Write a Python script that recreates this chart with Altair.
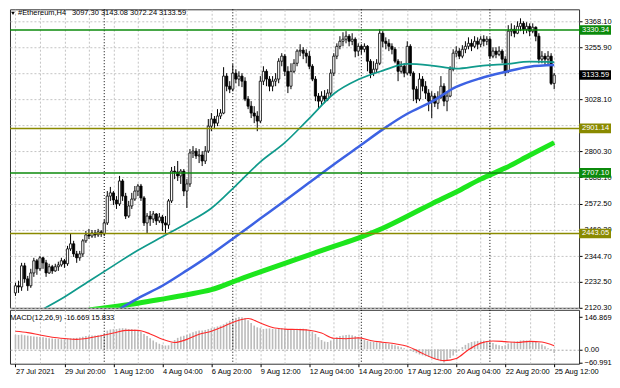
import json
import altair as alt
import pandas as pd

FONT = "Liberation Sans"
FS = 7.5

# ---------------- data ----------------
first_open = 2184.0
closes = [2215, 2210, 2302, 2245, 2215, 2271, 2324, 2289, 2337, 2315,
          2271, 2298, 2280, 2298, 2306, 2324, 2311, 2376, 2398, 2354,
          2337, 2354, 2411, 2437, 2432, 2445, 2437, 2450, 2441, 2489,
          2606, 2620, 2589, 2572, 2672, 2606, 2519, 2563, 2593, 2628,
          2650, 2598, 2489, 2519, 2506, 2528, 2498, 2515, 2489, 2480,
          2585, 2715, 2711, 2694, 2715, 2628, 2659, 2794, 2802, 2781,
          2785, 2759, 2802, 2911, 2942, 2924, 2955, 2968, 3129, 3085,
          3072, 3142, 3116, 3129, 3107, 3029, 2998, 2968, 2955, 2933,
          3107, 3150, 3116, 3085, 3107, 3116, 3194, 3216, 3150, 3085,
          3150, 3185, 3238, 3242, 3229, 3216, 3172, 3116, 3042, 3020,
          3042, 3029, 3055, 3142, 3216, 3259, 3281, 3290, 3303, 3281,
          3290, 3238, 3259, 3246, 3259, 3194, 3142, 3159, 3185, 3316,
          3281, 3272, 3259, 3246, 3194, 3150, 3172, 3142, 3259, 3142,
          3072, 3029, 3116, 3085, 3055, 3020, 3042, 3011, 3037, 3085,
          3020, 3042, 3159, 3229, 3238, 3216, 3246, 3259, 3272, 3259,
          3281, 3268, 3290, 3281, 3290, 3216, 3238, 3224, 3238, 3203,
          3150, 3325, 3333, 3316, 3346, 3359, 3333, 3346, 3325, 3342,
          3303, 3203, 3216, 3203, 3216, 3097.30, 3133.59]
highs = [2228, 2237, 2315, 2315, 2258, 2289, 2337, 2332, 2345, 2341,
         2328, 2311, 2306, 2311, 2320, 2337, 2332, 2389, 2445, 2411,
         2367, 2367, 2419, 2454, 2463, 2458, 2458, 2463, 2458, 2502,
         2628, 2646, 2628, 2606, 2694, 2680, 2620, 2585, 2620, 2650,
         2659, 2659, 2606, 2532, 2541, 2541, 2532, 2532, 2524, 2519,
         2593, 2733, 2737, 2759, 2724, 2724, 2680, 2811, 2824, 2815,
         2811, 2802, 2824, 2942, 2968, 2955, 2985, 2985, 3168, 3142,
         3107, 3181, 3159, 3150, 3142, 3124, 3042, 3020, 2998, 2976,
         3129, 3172, 3159, 3129, 3129, 3142, 3207, 3229, 3225, 3172,
         3185, 3203, 3246, 3268, 3255, 3246, 3238, 3181, 3129, 3055,
         3063, 3068, 3072, 3159, 3229, 3272, 3303, 3320, 3325, 3312,
         3316, 3298, 3272, 3268, 3272, 3264, 3203, 3194, 3203, 3333,
         3325, 3298, 3290, 3272, 3255, 3203, 3194, 3185, 3281, 3268,
         3150, 3085, 3142, 3129, 3107, 3072, 3063, 3055, 3063, 3129,
         3098, 3063, 3172, 3246, 3259, 3251, 3264, 3281, 3298, 3290,
         3303, 3298, 3303, 3307, 3303, 3298, 3255, 3255, 3259, 3246,
         3216, 3351, 3359, 3351, 3368, 3381, 3368, 3364, 3359, 3359,
         3346, 3316, 3238, 3229, 3238, 3229, 3143.08]
lows = [2171, 2184, 2193, 2228, 2193, 2206, 2254, 2263, 2280, 2289,
        2254, 2267, 2267, 2276, 2280, 2298, 2293, 2302, 2367, 2341,
        2315, 2324, 2341, 2402, 2419, 2424, 2424, 2428, 2428, 2432,
        2480, 2585, 2567, 2550, 2563, 2585, 2506, 2511, 2550, 2585,
        2606, 2585, 2476, 2441, 2476, 2489, 2480, 2489, 2454, 2441,
        2463, 2576, 2680, 2672, 2659, 2606, 2554, 2646, 2772, 2768,
        2750, 2737, 2746, 2794, 2889, 2898, 2911, 2942, 2963, 3063,
        3055, 3063, 3098, 3085, 3081, 3020, 2985, 2946, 2924, 2889,
        2924, 3090, 3085, 3063, 3063, 3085, 3098, 3172, 3129, 3055,
        3072, 3142, 3172, 3216, 3203, 3185, 3159, 3107, 3020, 2989,
        3003, 3011, 3020, 3042, 3129, 3203, 3246, 3259, 3272, 3259,
        3264, 3211, 3216, 3224, 3233, 3150, 3120, 3129, 3142, 3177,
        3255, 3246, 3238, 3224, 3185, 3107, 3140, 3124, 3133, 3129,
        3020, 3011, 3020, 3063, 3029, 2976, 2946, 2994, 2985, 3029,
        2998, 2976, 3037, 3150, 3211, 3203, 3207, 3229, 3246, 3238,
        3251, 3246, 3255, 3259, 3264, 3203, 3207, 3207, 3216, 3185,
        3129, 3142, 3303, 3298, 3312, 3325, 3312, 3316, 3303, 3316,
        3281, 3185, 3185, 3177, 3181, 3090, 3072.24]
opens = [first_open] + closes[:-1]

macd_hist = [66, 65, 67, 64, 62, 60, 58, 57, 56, 55,
             52, 50, 49, 48, 47, 46, 46, 48, 50, 51,
             52, 54, 57, 60, 62, 63, 63, 64, 66, 72,
             85, 90, 92, 92, 95, 96, 95, 92, 92, 90,
             88, 80, 70, 60, 50, 40, 32, 25, 20, 17,
             18, 30, 42, 52, 58, 62, 66, 72, 78, 82,
             85, 86, 88, 92, 96, 100, 104, 108, 114, 122,
             130, 138, 144, 146.869, 146, 143, 132, 120, 108, 100,
             96, 92, 94, 95, 93, 92, 95, 96, 94, 90,
             90, 91, 93, 94, 93, 92, 88, 80, 70, 55,
             42, 35, 33, 40, 48, 55, 60, 63, 65, 66,
             64, 60, 55, 48, 42, 38, 35, 33, 32, 30,
             29, 27, 25, 22, 18, 14, 9, 5, 0, -6,
             -12, -18, -24, -28, -32, -35, -40, -44, -48, -55,
             -60.991, -52, -40, -28, -15, -2, 10, 20, 28, 33,
             36, 38, 40, 39, 37, 33, 28, 22, 18, 15,
             18, 26, 32, 35, 37, 40, 41, 40, 39, 37,
             34, 30, 22, 14, 5, -6, -16.669]
signal_step = 4
signal_vals = [82, 76, 65, 55, 49, 45, 51, 62, 74, 86, 86, 70, 46, 31, 45,
               68, 82, 104, 128, 140, 120, 99, 92, 90, 87, 74, 50, 48, 52, 40,
               32, 25, 14, -12, -38, -52, -42, -2, 28, 38, 35, 31, 36, 33, 15.833]

ma_step = 8
ma_teal = [None, 2106, 2166, 2235, 2303, 2370, 2429, 2488, 2553, 2652, 2755, 2839,
           2945, 3052, 3114, 3153, 3182, 3175, 3162, 3174, 3181, 3192, 3190]
ma_blue = [None, None, None, None, 2098, 2160, 2215, 2282, 2353, 2430, 2508, 2586,
           2665, 2744, 2820, 2897, 2965, 3018, 3082, 3120, 3147, 3170, 3177]
ma_green = [None, None, None, 2110, 2124, 2139, 2157, 2176, 2198, 2237, 2276, 2313,
            2350, 2387, 2423, 2466, 2518, 2572, 2624, 2680, 2728, 2784, 2839]

level_values = [3330.34, 2901.14, 2707.10, 2443.05]
level_colors = ["#0b8a0b", "#8a8a00", "#0b8a0b", "#8a8a00"]
last_price = 3133.59

price_ticks = [3368.10, 3255.90, 3142.00, 3028.10, 2914.20, 2800.30, 2688.10,
               2572.50, 2460.30, 2344.70, 2232.50, 2120.30]
hidden_price_labels = [3142.00, 2914.20]
macd_ticks = [146.869, 0.0, -60.991]
x_labels = ["27 Jul 2021", "29 Jul 20:00", "1 Aug 12:00", "4 Aug 04:00",
            "6 Aug 20:00", "9 Aug 12:00", "12 Aug 04:00", "14 Aug 20:00",
            "17 Aug 12:00", "20 Aug 04:00", "22 Aug 20:00", "25 Aug 12:00"]
label_every = 16
grid_every = 8
week_separators = [29, 71, 113, 155]

header_symbol = "#Ethereum,H4"
header_ohlc = "3097.30 3143.08 3072.24 3133.59"
macd_header = "MACD(12,26,9) -16.669 15.833"

# ---------------- frames ----------------
n = len(closes)
bars = pd.DataFrame({"bar": list(range(n)), "open": opens, "high": highs,
                     "low": lows, "close": closes, "macd": macd_hist})
ma_rows = []
for name, vals in (("teal", ma_teal), ("blue", ma_blue), ("green", ma_green)):
    for k, v in enumerate(vals):
        if v is not None:
            ma_rows.append({"bar": k * ma_step, "value": v, "ma": name})
ma_df = pd.DataFrame(ma_rows)
sig_df = pd.DataFrame({"bar": [k * signal_step for k in range(len(signal_vals))],
                       "signal": signal_vals})
lev_df = pd.DataFrame({"value": level_values, "color": level_colors,
                       "label": [f"{v:.2f}" for v in level_values]})
last_df = pd.DataFrame({"value": [last_price], "label": [f"{last_price:.2f}"]})
sep_df = pd.DataFrame({"bar": week_separators})
one = pd.DataFrame({"k": [0]})

W = 570
H_MAIN = 299
H_MACD = 54
BOX_W = 32
grid_bars = list(range(0, n, grid_every))
xscale = alt.Scale(domain=[-0.16, 182.5], nice=False, zero=False)
yscale = alt.Scale(domain=[2119.0, 3420.3], nice=False, zero=False)
mscale = alt.Scale(domain=[-66.0, 180.0], nice=False, zero=False)

hide_test = " || ".join(f"abs(datum.value - {v}) < 0.01" for v in hidden_price_labels)
grid_x_axis = alt.Axis(values=grid_bars, labels=False, ticks=False, domain=False,
                       grid=True, gridDash=[2, 2], gridColor="#c4c4c4", title=None)
price_axis = alt.Axis(orient="right", values=price_ticks, title=None,
                      labelExpr=f"({hide_test}) ? '' : format(datum.value, '.2f')",
                      domain=False, tickSize=3, tickColor="#000", labelPadding=2,
                      labelFont=FONT, labelFontSize=FS, labelColor="#000",
                      labelOverlap=False, labelFlush=False,
                      grid=True, gridDash=[2, 2], gridColor="#c4c4c4")

X = alt.X("bar:Q", scale=xscale, axis=grid_x_axis, title=None)

def Yp(field):
    return alt.Y(field, scale=yscale, axis=price_axis, title=None)

# ---------------- main panel ----------------
wicks = alt.Chart(bars).mark_rule(color="#000", strokeWidth=1).encode(
    x=X, y=Yp("low:Q"), y2="high:Q")
bodies = alt.Chart(bars).mark_bar(size=2.2, stroke="#000", strokeWidth=0.8).encode(
    x=X, y=Yp("open:Q"), y2="close:Q",
    fill=alt.condition("datum.close >= datum.open", alt.value("#ffffff"), alt.value("#000000")))
seps = alt.Chart(sep_df).mark_rule(color="#000", strokeWidth=1, strokeDash=[1, 2]).encode(x=X)

def ma_line(name, color, width):
    return alt.Chart(ma_df).transform_filter(alt.datum.ma == name).mark_line(
        color=color, strokeWidth=width, clip=True, interpolate="monotone").encode(
        x=X, y=Yp("value:Q"))

ma_g = ma_line("green", "#1de61d", 5)
ma_b = ma_line("blue", "#3d62e3", 2.5)
ma_t = ma_line("teal", "#109a8c", 1.7)

levels = alt.Chart(lev_df).mark_rule(strokeWidth=1.5).encode(
    y=Yp("value:Q"), color=alt.Color("color:N", scale=None))
box_shape = "M-1,-0.3L1,-0.3L1,0.3L-1,0.3Z"
lev_box = alt.Chart(lev_df).mark_point(shape=box_shape, size=BOX_W * BOX_W, filled=True,
                                       opacity=1).encode(
    x=alt.value(W + BOX_W / 2), y=Yp("value:Q"), color=alt.Color("color:N", scale=None))
lev_txt = alt.Chart(lev_df).mark_text(align="left", baseline="middle", font=FONT,
                                      fontSize=FS, color="#ffffff").encode(
    x=alt.value(W + 3), y=Yp("value:Q"), text="label:N")
last_box = alt.Chart(last_df).mark_point(shape=box_shape, size=BOX_W * BOX_W, filled=True,
                                         opacity=1, color="#000").encode(
    x=alt.value(W + BOX_W / 2), y=Yp("value:Q"))
last_txt = alt.Chart(last_df).mark_text(align="left", baseline="middle", font=FONT,
                                        fontSize=FS, color="#ffffff").encode(
    x=alt.value(W + 3), y=Yp("value:Q"), text="label:N")

tri = alt.Chart(one).mark_point(shape="triangle-down", size=14, filled=True,
                                opacity=1, color="#000").encode(
    x=alt.value(3), y=alt.value(4))
hdr1 = alt.Chart(one).mark_text(text=header_symbol, font=FONT, fontSize=FS,
                                color="#000", align="left", baseline="top").encode(
    x=alt.value(8), y=alt.value(0))
hdr2 = alt.Chart(one).mark_text(text=header_ohlc, font=FONT, fontSize=FS,
                                color="#000", align="left", baseline="top").encode(
    x=alt.value(62), y=alt.value(0))

main = alt.layer(wicks, seps, bodies, ma_g, ma_b, ma_t, levels,
                 lev_box, lev_txt, last_box, last_txt, tri, hdr1, hdr2).properties(
    width=W, height=H_MAIN)

# ---------------- MACD panel ----------------
lab_expr = (f"datum.value % {label_every} === 0 ? "
            f"{json.dumps(x_labels)}[datum.value / {label_every}] : ''")
macd_x_axis = alt.Axis(values=grid_bars, labelExpr=lab_expr, labelAlign="left",
                       labelFont=FONT, labelFontSize=FS, labelColor="#000",
                       labelPadding=1, labelOverlap=False, labelFlush=False,
                       tickSize=3, tickColor="#000",
                       tickOpacity={"condition": {"test": f"datum.value % {label_every} === 0",
                                                  "value": 1}, "value": 0},
                       domain=False, grid=True, gridDash=[2, 2], gridColor="#c4c4c4",
                       title=None)
macd_y_axis = alt.Axis(orient="right", values=macd_ticks, title=None, domain=False,
                       labelExpr="datum.value === 0 ? '0.00' : format(datum.value, '.3f')",
                       labelFont=FONT, labelFontSize=FS, labelColor="#000",
                       labelPadding=2, labelOverlap=False, labelFlush=False,
                       tickSize=3, tickColor="#000", grid=True, gridDash=[2, 2],
                       gridColor="#a8a8a8",
                       gridOpacity={"condition": {"test": "datum.value === 0", "value": 1},
                                    "value": 0})
XM = alt.X("bar:Q", scale=xscale, axis=macd_x_axis, title=None)

def Ym(field):
    return alt.Y(field, scale=mscale, axis=macd_y_axis, title=None)

hist = alt.Chart(bars).mark_bar(size=1.6, color="#bbbbbb").encode(
    x=XM, y=Ym("macd:Q"), y2=alt.datum(0))
sig = alt.Chart(sig_df).mark_line(color="#ff2a2a", strokeWidth=1.1,
                                  interpolate="monotone").encode(x=XM, y=Ym("signal:Q"))
seps2 = alt.Chart(sep_df).mark_rule(color="#000", strokeWidth=1, strokeDash=[1, 2]).encode(x=XM)
mhdr = alt.Chart(one).mark_text(text=macd_header, font=FONT, fontSize=FS,
                                color="#000", align="left", baseline="middle").encode(
    x=alt.value(0), y=alt.value(8))

macd = alt.layer(hist, seps2, sig, mhdr).properties(width=W, height=H_MACD)

chart = alt.vconcat(main, macd, spacing=2, bounds="flush").properties(
    padding=0, background="#ffffff"
).configure_view(stroke="#333333", strokeWidth=1).configure_axis(labelOverlap=False)

chart.save("out.html", embed_options={"renderer": "svg", "actions": False})
